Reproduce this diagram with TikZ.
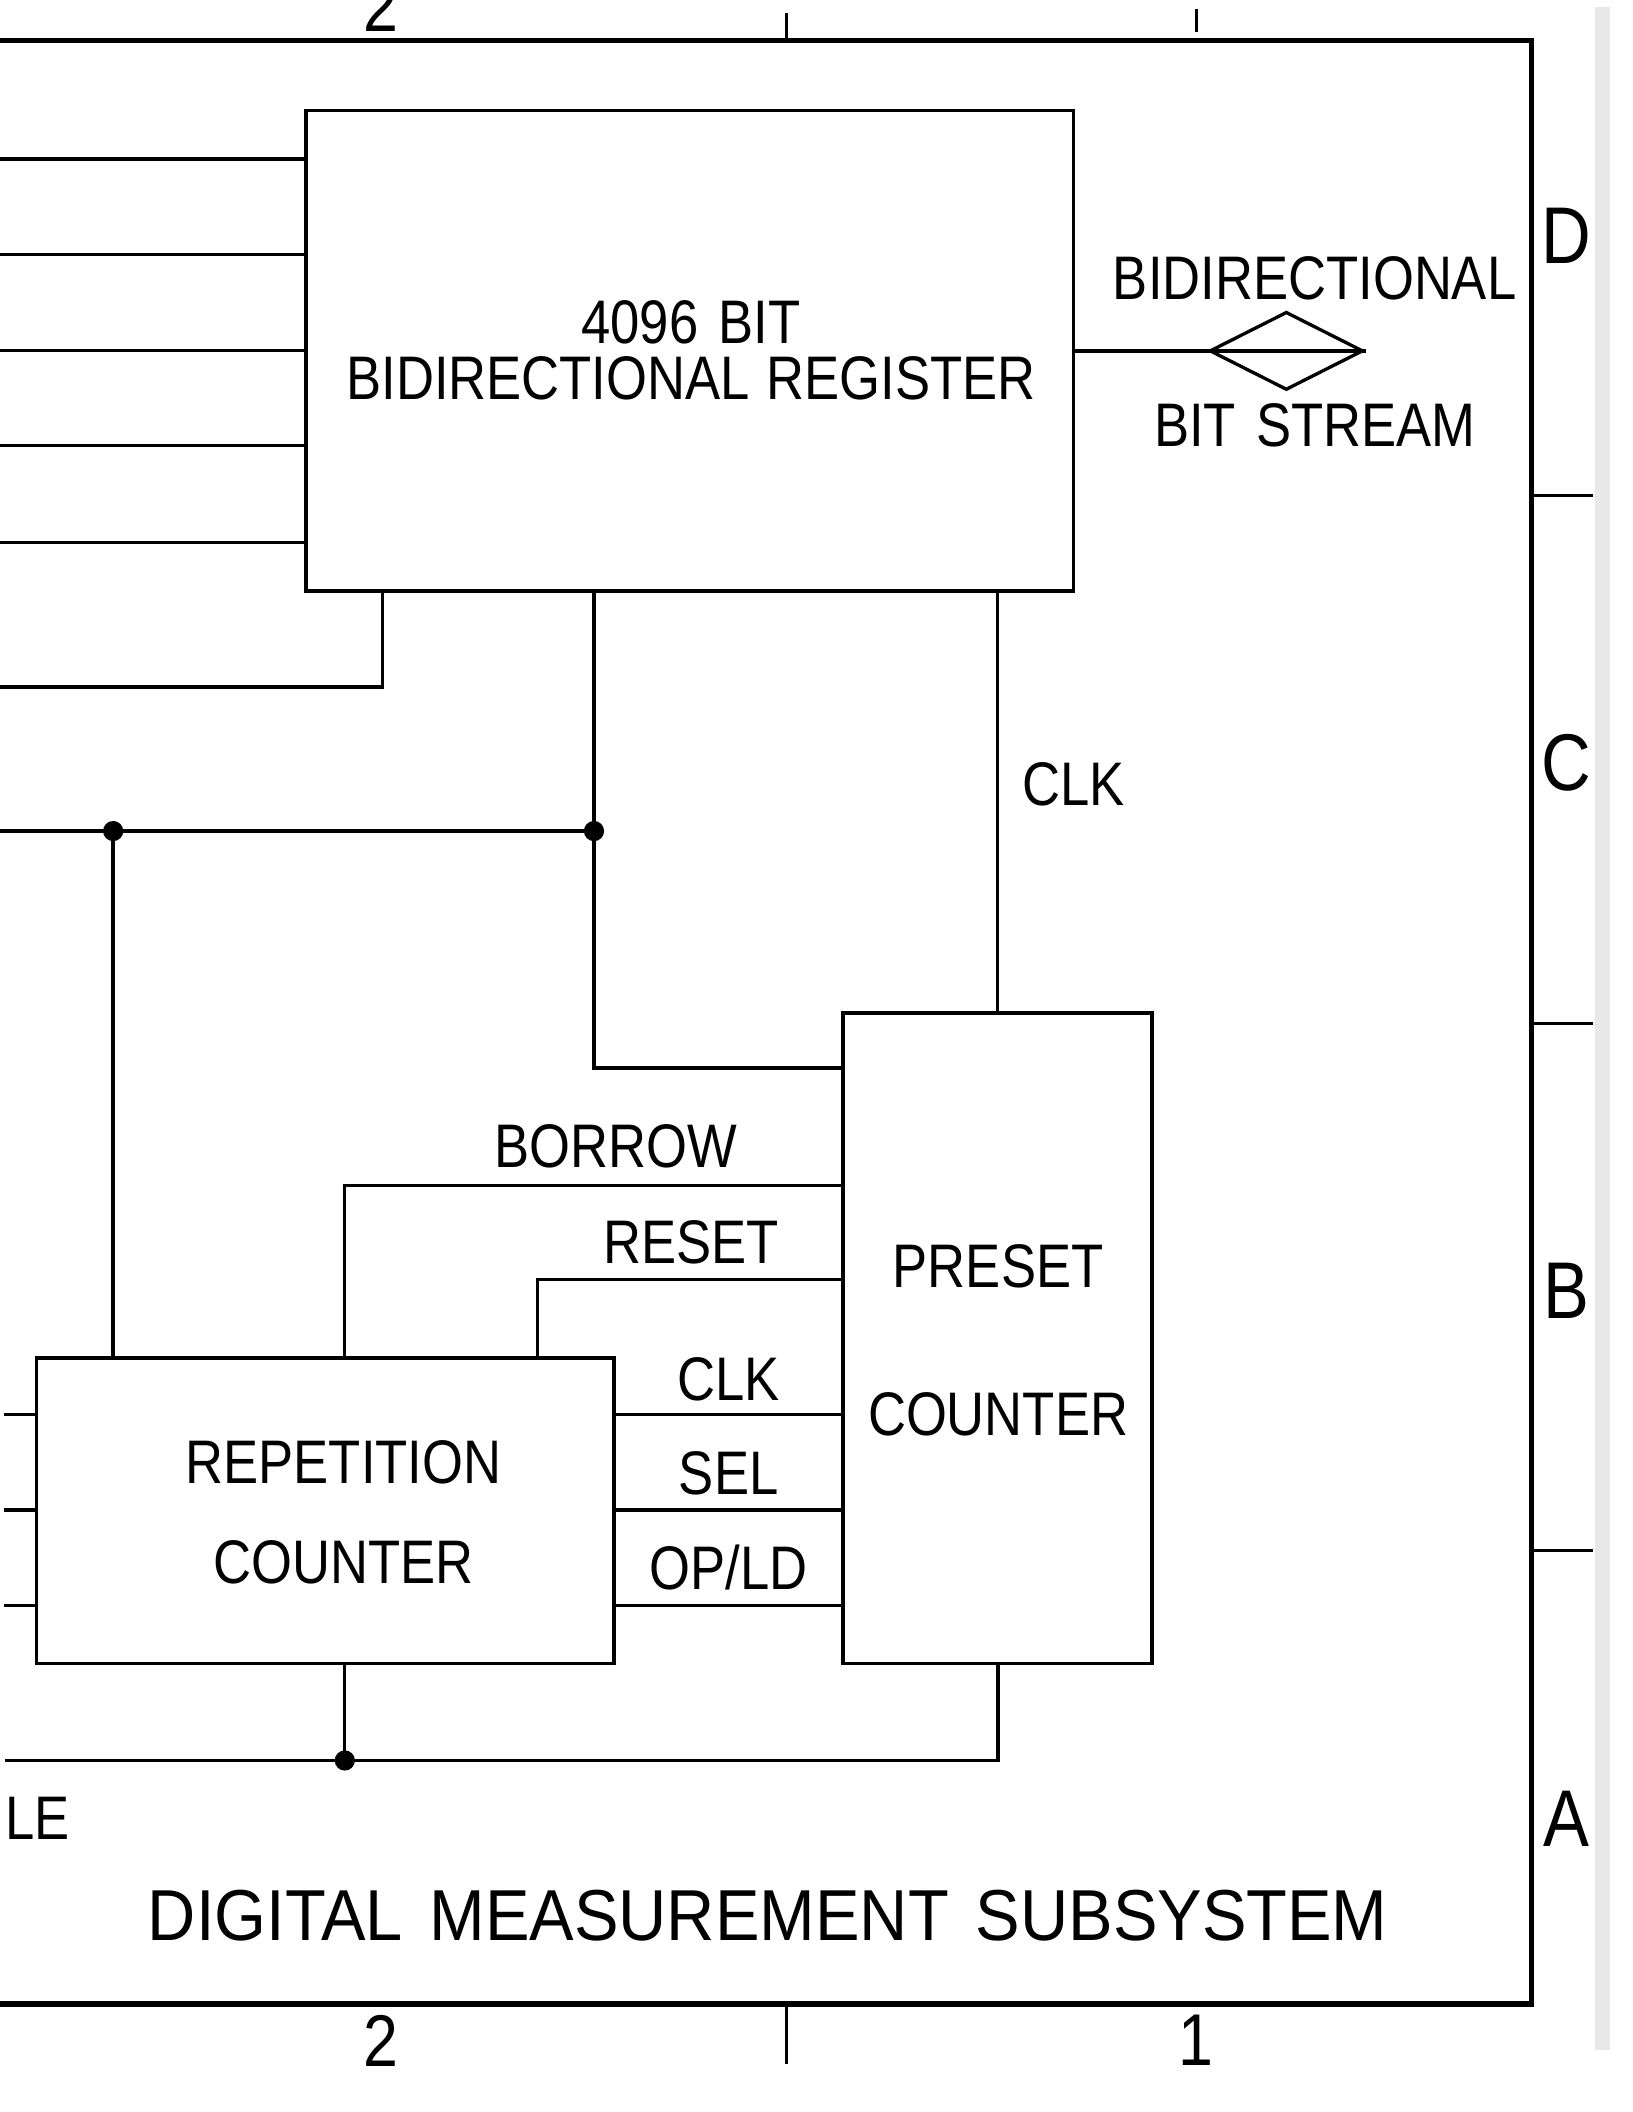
\documentclass[tikz,border=0pt]{standalone}
\usepackage{fontspec}
\setmainfont{Liberation Sans}[FakeStretch=0.855]
\newfontfamily\titlefam{Liberation Sans}[FakeStretch=0.925]
\usetikzlibrary{shapes.geometric}
\newcommand\lblfont{\fontsize{26pt}{28pt}\selectfont}
\newcommand\ttlfont{\titlefam\fontsize{30.5pt}{33pt}\selectfont}
\newcommand\mrgfont{\fontsize{34pt}{36pt}\selectfont}
\newcommand\digfont{\fontsize{31pt}{33pt}\selectfont}
\begin{document}
\begin{tikzpicture}[x=0.02cm, y=-0.02cm,
  wire/.style={line width=1.4pt, line cap=rect},
  frameline/.style={line width=2.4pt, line cap=rect},
  thinline/.style={line width=1.2pt},
  blk/.style={draw, line width=1.6pt, rectangle, inner sep=0pt, outer sep=0pt},
  lbl/.style={inner sep=0pt, outer sep=0pt, font=\lblfont},
  dotn/.style={circle, fill=black, inner sep=0pt, outer sep=0pt, minimum size=0.3cm},
]
\useasboundingbox (0,0) rectangle (1212,1568);
% scanner shadow at the right edge
\fill[black!9] (1184,5) rectangle (1195,1522);

% drawing frame
\coordinate (ftl) at (0,30);
\coordinate (ftr) at (1137,30);
\coordinate (fbr) at (1137,1488);
\coordinate (fbl) at (0,1488);
\draw[frameline] (ftl) -- (ftr) -- (fbr) -- (fbl);
\draw[thinline] (1137,368) -- (1183,368);
\draw[thinline] (1137,760) -- (1183,760);
\draw[thinline] (1137,1151) -- (1183,1151);
\draw[thinline] (584,10) -- (584,30);
\draw[thinline] (888,7) -- (888,24);
\draw[thinline] (584,1488) -- (584,1532);
\node[font=\mrgfont, inner sep=0pt] (zD) at (1163,175) {D};
\node[font=\mrgfont, inner sep=0pt] (zC) at (1163,566) {C};
\node[font=\mrgfont, inner sep=0pt] (zB) at (1163,958) {B};
\node[font=\mrgfont, inner sep=0pt] (zA) at (1163,1350) {A};
\node[font=\digfont, inner sep=0pt] (n2b) at (283,1515) {2};
\node[font=\digfont, inner sep=0pt] (n1b) at (888,1515) {1};
\node[font=\digfont, inner sep=0pt, anchor=south] (n2t) at (283,24) {2};

% blocks
\node[blk, minimum width=11.4cm, minimum height=7.14cm] (reg) at (512,260.5) {};
\node[blk, minimum width=4.58cm, minimum height=9.66cm] (pre) at (740.5,993.5) {};
\node[blk, minimum width=8.58cm, minimum height=4.54cm] (rep) at (241.5,1121.5) {};
\node[diamond, draw, line width=1.4pt, inner sep=0pt, minimum width=2.28cm, minimum height=1.16cm] (bs) at (955,260.5) {};

% block texts
\node[lbl] (t1) at (513,239) {4096\hspace{0.3cm}BIT};
\node[lbl] (t2) at (513,281) {BIDIRECTIONAL\hspace{0.25cm}REGISTER};
\node[lbl] (t3) at (976,207) {BIDIRECTIONAL};
\node[lbl] (t4) at (976,316) {BIT\hspace{0.3cm}STREAM};
\node[lbl] (t5) at (797,582) {CLK};
\node[lbl] (t6) at (457,851) {BORROW};
\node[lbl] (t7) at (513,922) {RESET};
\node[lbl] (t8) at (741,940) {PRESET};
\node[lbl] (t9) at (741,1050) {COUNTER};
\node[lbl] (t10) at (541,1024) {CLK};
\node[lbl] (t11) at (541,1094) {SEL};
\node[lbl] (t12) at (541,1164) {OP/LD};
\node[lbl] (t13) at (255,1086) {REPETITION};
\node[lbl] (t14) at (255,1160) {COUNTER};
\node[lbl, anchor=west] (t15) at (4,1350) {LE};
\node[inner sep=0pt, font=\ttlfont] (t16) at (570,1422) {DIGITAL\hspace{0.4cm}MEASUREMENT\hspace{0.4cm}SUBSYSTEM};

% register inputs
\foreach \yy [count=\i] in {118,189,260,331,403} {
  \coordinate (in\i) at (0,\yy);
  \draw[wire] (in\i) -- (reg.west |- in\i);
}
% bit stream
\draw[wire] (reg.east) -- (bs.east);

% register bottom connections
\coordinate (a0) at (0,510);
\coordinate (a1) at (284,510);
\draw[wire] (reg.south -| a1) -- (a1) -- (a0);

\node[dotn] (j1) at (441,617) {};
\node[dotn] (j2) at (84,617) {};
\coordinate (b0) at (0,617);
\coordinate (b1) at (441,793);
\draw[wire] (reg.south -| j1) -- (j1.center) -- (b1) -- (b1 -| pre.west);
\draw[wire] (b0) -- (j1.center);
\draw[wire] (j2.center) -- (j2.center |- rep.north);

% register clock from preset counter
\draw[wire] (reg.south -| pre.north) -- (pre.north);

% borrow and reset
\coordinate (bw) at (256,880);
\coordinate (rs) at (399,950);
\draw[wire] (rep.north -| bw) -- (bw) -- (bw -| pre.west);
\draw[wire] (rep.north -| rs) -- (rs) -- (rs -| pre.west);

% clk, sel, op/ld
\foreach \yy [count=\i] in {1050,1121,1192} {
  \coordinate (k\i) at (456,\yy);
  \draw[wire] (rep.east |- k\i) -- (pre.west |- k\i);
  \coordinate (m\i) at (4,\yy);
  \draw[wire] (m\i) -- (rep.west |- m\i);
}

% bottom bus
\node[dotn] (j3) at (256,1307) {};
\coordinate (e0) at (5,1307);
\coordinate (e1) at (741,1307);
\draw[wire] (rep.south -| j3) -- (j3.center);
\draw[wire] (e0) -- (e1) -- (pre.south -| e1);
\end{tikzpicture}
\end{document}
